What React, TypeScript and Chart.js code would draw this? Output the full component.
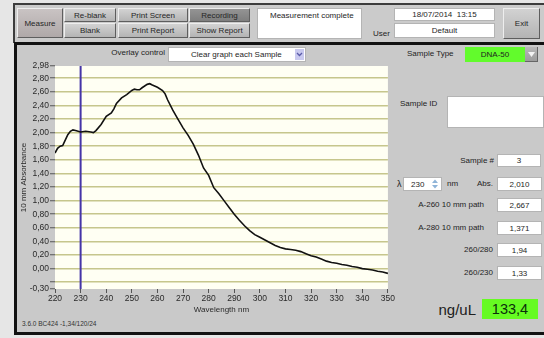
import React, { useEffect, useRef } from "react";
import { Chart, registerables } from "chart.js";

Chart.register(...registerables);

// Spectrum sample: wavelength (nm) and 10 mm absorbance
const wavelengths = [
  220, 221, 222, 223, 224, 225, 226, 227, 228, 230, 232, 234, 235, 236, 238,
  240, 242, 243, 244, 246, 248, 250, 251, 252, 253, 254, 256, 257, 258, 260,
  262, 263, 264, 266, 268, 270, 272, 274, 276, 278, 280, 282, 284, 286, 288,
  290, 292, 294, 296, 298, 300, 302, 304, 306, 308, 310, 312, 314, 316, 318,
  320, 322, 324, 326, 328, 330, 332, 334, 336, 338, 340, 342, 344, 346, 348, 350,
];
const absorbance = [
  1.7, 1.77, 1.8, 1.81, 1.89, 1.97, 2.02, 2.04, 2.03, 2.01, 2.02, 2.01, 2.0, 2.03, 2.12,
  2.24, 2.29, 2.35, 2.43, 2.51, 2.56, 2.62, 2.64, 2.63, 2.63, 2.66, 2.71, 2.72, 2.7, 2.667,
  2.62, 2.57, 2.48, 2.33, 2.2, 2.07, 1.96, 1.83, 1.67, 1.48, 1.371, 1.19, 1.1, 1.0, 0.9,
  0.8, 0.71, 0.63, 0.56, 0.5, 0.46, 0.42, 0.38, 0.34, 0.31, 0.29, 0.28, 0.27, 0.25, 0.22,
  0.19, 0.17, 0.14, 0.11, 0.09, 0.08, 0.06, 0.05, 0.03, 0.02, 0.0, -0.01, -0.02, -0.04, -0.05, -0.07,
];

// Cursor wavelength (λ field)
const cursorWavelength = 230;

// Axis ticks
const xTicks = [220, 230, 240, 250, 260, 270, 280, 290, 300, 310, 320, 330, 340, 350];
const yTicks = [-0.3, -0.2, 0, 0.2, 0.4, 0.6, 0.8, 1.0, 1.2, 1.4, 1.6, 1.8, 2.0, 2.2, 2.4, 2.6, 2.8, 2.98];
const yUnlabelled = [-0.2];

// Readouts
const sampleNumber = "3";
const absAtCursor = "2,010";
const a260 = "2,667";
const a280 = "1,371";
const ratio260280 = "1,94";
const ratio260230 = "1,33";
const concentration = "133,4";

const fmt = (v: number) => v.toFixed(2).replace(".", ",");

const FONT = '"Liberation Sans", Arial, sans-serif';

const plotBackground = {
  id: "plotBackground",
  beforeDraw(chart: any) {
    const { ctx, chartArea } = chart;
    if (!chartArea) return;
    ctx.save();
    ctx.fillStyle = "#fffff3";
    ctx.fillRect(chartArea.left, chartArea.top, chartArea.width, chartArea.height);
    ctx.restore();
  },
};

function Txt(props: any) {
  const { x, cy, children, size = 8, align = "left", color = "#1e1e1e" } = props;
  const h = Math.ceil(size * 1.5);
  const style: any = {
    position: "absolute",
    top: cy - h / 2,
    height: h,
    lineHeight: h + "px",
    fontSize: size,
    color,
    whiteSpace: "nowrap",
  };
  if (align === "right") style.right = 544 - x;
  else if (align === "center") {
    style.left = x - 100;
    style.width = 200;
    style.textAlign = "center";
  } else style.left = x;
  return <div style={style}>{children}</div>;
}

function Field(props: any) {
  const { x, y, w, h, children, bg = "#ffffff", size = 8, color = "#1e1e1e", align = "center", pad = 0 } = props;
  return (
    <div
      style={{
        position: "absolute",
        left: x,
        top: y,
        width: w,
        height: h,
        boxSizing: "border-box",
        background: bg,
        border: "1px solid #b4b4b4",
        fontSize: size,
        color,
        display: "flex",
        alignItems: "center",
        justifyContent: align === "center" ? "center" : "flex-start",
        paddingLeft: pad,
        whiteSpace: "nowrap",
        overflow: "hidden",
      }}
    >
      {children}
    </div>
  );
}

function Button(props: any) {
  const { x, y, w, h, label, tone = "normal" } = props;
  const bg =
    tone === "pressed"
      ? "linear-gradient(#949494, #7e7e7e)"
      : tone === "rose"
      ? "linear-gradient(#c9c3c3, #afa8a8)"
      : "linear-gradient(#d2d2d2, #b4b4b4)";
  return (
    <div
      style={{
        position: "absolute",
        left: x,
        top: y,
        width: w,
        height: h,
        boxSizing: "border-box",
        background: bg,
        borderTop: "1px solid #eeeeee",
        borderLeft: "1px solid #eeeeee",
        borderRight: "1px solid #5e5e5e",
        borderBottom: "1px solid #5e5e5e",
        display: "flex",
        alignItems: "center",
        justifyContent: "center",
        fontSize: 8,
        color: "#262626",
        whiteSpace: "nowrap",
      }}
    >
      {label}
    </div>
  );
}

function SpectrumChart() {
  const ref = useRef<HTMLCanvasElement | null>(null);

  useEffect(() => {
    if (!ref.current) return;
    const curve = wavelengths.map((w, i) => ({ x: w, y: absorbance[i] }));
    const cursor = [
      { x: cursorWavelength, y: yTicks[0] },
      { x: cursorWavelength, y: yTicks[yTicks.length - 1] },
    ];
    const tickFont = { family: FONT, size: 8.5 };
    const chart = new Chart(ref.current, {
      type: "line",
      data: {
        datasets: [
          {
            data: curve,
            borderColor: "#111111",
            borderWidth: 1.6,
            pointRadius: 0,
            tension: 0,
          },
          {
            data: cursor,
            borderColor: "#4534a8",
            borderWidth: 2,
            pointRadius: 0,
          },
        ],
      },
      options: {
        animation: false,
        responsive: false,
        maintainAspectRatio: false,
        events: [],
        layout: { padding: { top: 8, right: 8, left: 0, bottom: 0 } },
        plugins: { legend: { display: false }, tooltip: { enabled: false } },
        scales: {
          x: {
            type: "linear",
            min: xTicks[0],
            max: xTicks[xTicks.length - 1],
            afterFit: (s: any) => {
              s.height = 31;
            },
            afterBuildTicks: (s: any) => {
              s.ticks = xTicks.map((v) => ({ value: v }));
            },
            ticks: {
              autoSkip: false,
              maxRotation: 0,
              padding: 1,
              color: "#2a2a2a",
              font: tickFont,
              callback: (v: any) => String(v),
            },
            grid: {
              drawOnChartArea: false,
              drawTicks: true,
              tickLength: 4,
              tickColor: "#555555",
              tickWidth: 1,
            },
            border: { display: false },
            title: {
              display: true,
              text: "Wavelength nm",
              color: "#2a2a2a",
              font: { family: FONT, size: 8 },
              padding: { top: 0, bottom: 5.5 },
            },
          },
          y: {
            type: "linear",
            min: yTicks[0],
            max: yTicks[yTicks.length - 1],
            afterFit: (s: any) => {
              s.width = 38;
            },
            afterBuildTicks: (s: any) => {
              s.ticks = yTicks.map((v) => ({ value: v }));
            },
            ticks: {
              autoSkip: false,
              padding: 1,
              color: "#2a2a2a",
              font: tickFont,
              callback: (v: any) => (yUnlabelled.includes(v) ? "" : fmt(v)),
            },
            grid: {
              color: (ctx: any) => {
                const v = ctx.tick ? ctx.tick.value : null;
                return v === yTicks[0] || v === yTicks[yTicks.length - 1] ? "rgba(0,0,0,0)" : "#c6c68c";
              },
              lineWidth: 1.5,
              drawTicks: true,
              tickLength: 5,
              tickColor: "#555555",
              tickWidth: 1,
            },
            border: { display: false },
            title: {
              display: true,
              text: "10 mm Absorbance",
              color: "#2a2a2a",
              font: { family: FONT, size: 8 },
              padding: { top: 2.2, bottom: 0 },
            },
          },
        },
      },
      plugins: [plotBackground],
    } as any);
    return () => chart.destroy();
  }, []);

  return (
    <canvas
      ref={ref}
      width={379}
      height={262}
      style={{ position: "absolute", left: 17, top: 58, width: 379, height: 262 }}
    />
  );
}

export default function App() {
  return (
    <div
      style={{
        position: "fixed",
        left: 0,
        top: 0,
        width: 544,
        height: 338,
        overflow: "hidden",
        background: "#e6e6e6",
        fontFamily: FONT,
      }}
    >
      {/* toolbar strip */}
      <div
        style={{
          position: "absolute",
          left: 13,
          top: 3,
          width: 560,
          height: 40,
          boxSizing: "border-box",
          background: "#cbcbcb",
          borderTop: "2px solid #3c3c3c",
          borderLeft: "2px solid #3c3c3c",
        }}
      />
      <Button x={17} y={8} w={46} h={30} label="Measure" tone="rose" />
      <Button x={64} y={8} w={52} h={14} label="Re-blank" />
      <Button x={64} y={23} w={52} h={15} label="Blank" />
      <Button x={118} y={8} w={70} h={14} label="Print Screen" />
      <Button x={118} y={23} w={70} h={15} label="Print Report" />
      <Button x={189} y={8} w={61} h={14} label="Recording" tone="pressed" />
      <Button x={189} y={23} w={61} h={15} label="Show Report" />
      <div
        style={{
          position: "absolute",
          left: 257,
          top: 8,
          width: 105,
          height: 31,
          boxSizing: "border-box",
          background: "#ffffff",
          border: "1px solid #b4b4b4",
          fontSize: 8,
          color: "#1e1e1e",
          paddingLeft: 12,
          paddingTop: 2,
          whiteSpace: "nowrap",
        }}
      >
        Measurement complete
      </div>
      <Txt x={373} cy={34}>User</Txt>
      <Field x={394} y={8} w={101} h={13}>18/07/2014&nbsp;&nbsp;13:15</Field>
      <Field x={394} y={23} w={101} h={15}>Default</Field>
      <Button x={503} y={8} w={37} h={31} label="Exit" />

      {/* main panel */}
      <div
        style={{
          position: "absolute",
          left: 14,
          top: 42,
          width: 560,
          height: 293,
          boxSizing: "border-box",
          background: "#c9c9c9",
          borderTop: "3px solid #111111",
          borderLeft: "3px solid #111111",
          borderBottom: "3px solid #111111",
        }}
      />

      <Txt x={165} cy={53} align="right">Overlay control</Txt>
      <Field x={168} y={47} w={138} h={15} align="left" pad={22}>
        Clear graph each Sample
      </Field>
      <div
        style={{
          position: "absolute",
          left: 295,
          top: 49,
          width: 9,
          height: 11,
          background: "#c9c9ef",
        }}
      >
        <svg width="9" height="11" style={{ display: "block" }}>
          <polyline points="2,4 4.5,6.5 7,4" fill="none" stroke="#5a5aa8" strokeWidth="1.3" />
        </svg>
      </div>

      <SpectrumChart />

      <div
        style={{
          position: "absolute",
          left: 22,
          top: 320,
          fontSize: 6.5,
          color: "#333333",
          whiteSpace: "nowrap",
        }}
      >
        3.6.0 BC424 -1,34/120/24
      </div>

      {/* right panel */}
      <Txt x={407} cy={54}>Sample Type</Txt>
      <div
        style={{
          position: "absolute",
          left: 465,
          top: 47,
          width: 60,
          height: 15,
          background: "#62fb2c",
          fontSize: 8,
          color: "#1e1e1e",
          display: "flex",
          alignItems: "center",
          justifyContent: "center",
        }}
      >
        DNA-50
      </div>
      <div
        style={{
          position: "absolute",
          left: 525,
          top: 47,
          width: 13,
          height: 15,
          boxSizing: "border-box",
          background: "linear-gradient(#b8b8b8, #9c9c9c)",
          borderRight: "1px solid #666",
          borderBottom: "1px solid #666",
        }}
      >
        <svg width="13" height="15" style={{ display: "block" }}>
          <polygon points="3,5 10,5 6.5,10" fill="#f4f4f4" />
        </svg>
      </div>

      <Txt x={400} cy={104}>Sample ID</Txt>
      <Field x={447} y={96} w={97} h={32} />

      <Txt x={494} cy={161} align="right">Sample #</Txt>
      <Field x={497} y={154} w={44} h={13}>{sampleNumber}</Field>

      <Txt x={397} cy={184} size={9}>λ</Txt>
      <Field x={403} y={177} w={39} h={14} align="left" pad={7}>
        {String(cursorWavelength)}
      </Field>
      <svg width="8" height="12" style={{ position: "absolute", left: 431, top: 178 }}>
        <polygon points="1,5 7,5 4,1.5" fill="#8fb4d8" />
        <polygon points="1,7 7,7 4,10.5" fill="#8fb4d8" />
      </svg>
      <Txt x={447} cy={184}>nm</Txt>
      <Txt x={493} cy={184} align="right">Abs.</Txt>
      <Field x={497} y={177} w={45} h={14}>{absAtCursor}</Field>

      <Txt x={484} cy={205} align="right">A-260 10 mm path</Txt>
      <Field x={497} y={198} w={45} h={14}>{a260}</Field>

      <Txt x={484} cy={228} align="right">A-280 10 mm path</Txt>
      <Field x={497} y={221} w={45} h={14}>{a280}</Field>

      <Txt x={493} cy={250} align="right">260/280</Txt>
      <Field x={497} y={243} w={45} h={14}>{ratio260280}</Field>

      <Txt x={493} cy={273} align="right">260/230</Txt>
      <Field x={497} y={266} w={45} h={14}>{ratio260230}</Field>

      <Txt x={476} cy={309} align="right" size={15} color="#202020">ng/uL</Txt>
      <div
        style={{
          position: "absolute",
          left: 482,
          top: 299,
          width: 56,
          height: 20,
          background: "#66fb22",
          fontSize: 14.5,
          color: "#0b2e0b",
          display: "flex",
          alignItems: "center",
          justifyContent: "center",
        }}
      >
        {concentration}
      </div>
    </div>
  );
}
